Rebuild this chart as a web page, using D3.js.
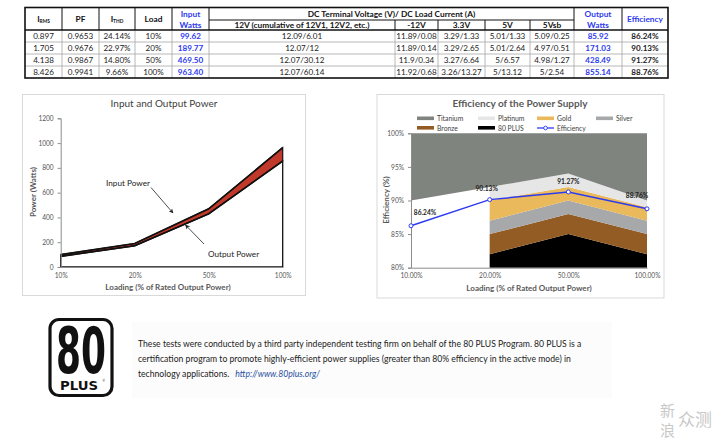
<!DOCTYPE html>
<html><head><meta charset="utf-8">
<script src="https://cdn.jsdelivr.net/npm/d3@7"></script>
<style>
html,body{margin:0;padding:0;background:#fff;}
svg{display:block;font-family:Lato,"Open Sans",sans-serif;}
</style></head>
<body>
<svg id="c" width="720" height="443"></svg>
<script>
// ---------- data ----------
const irms = ["0.897","1.705","4.138","8.426"];
const pf = ["0.9653","0.9676","0.9867","0.9941"];
const ithd = ["24.14%","22.97%","14.80%","9.66%"];
const loads = ["10%","20%","50%","100%"];
const inputWatts = [99.62,189.77,469.50,963.40];
const v12 = ["12.09/6.01","12.07/12","12.07/30.12","12.07/60.14"];
const vneg12 = ["11.89/0.08","11.89/0.14","11.9/0.34","11.92/0.68"];
const v33 = ["3.29/1.33","3.29/2.65","3.27/6.64","3.26/13.27"];
const v5 = ["5.01/1.33","5.01/2.64","5/6.57","5/13.12"];
const v5sb = ["5.09/0.25","4.97/0.51","4.98/1.27","5/2.54"];
const outputWatts = [85.92,171.03,428.49,855.14];
const efficiency = [86.24,90.13,91.27,88.76];

const powerTicks = [0,200,400,600,800,1000,1200];
const effLoads = ["10.00%","20.00%","50.00%","100.00%"];
const effTicks = [80,85,90,95,100];
// 80 PLUS thresholds (20%,50%,100% load; titanium also 10%)
const bronzeLvl = [82,85,82];
const silverLvl = [85,88,85];
const goldLvl = [87,90,87];
const platinumLvl = [90,92,89];
const titaniumLvl = [90,92,94,90];
const legendNames = ["Titanium","Platinum","Gold","Silver","Bronze","80 PLUS","Efficiency"];

const svg = d3.select("#c");
const BLUE = "#2d3bef";

// ---------- table ----------
const colX = [25,62,99,135,172,209,395,438,485,530,574,622,668];
const rowY = [30,42,54,66,78];
const tTop = 7.5, tMid = 20, tBot = 30;
const T = svg.append("g");
const cols = [irms,pf,ithd,loads,inputWatts.map(d=>d.toFixed(2)),v12,vneg12,v33,v5,v5sb,outputWatts.map(d=>d.toFixed(2)),efficiency.map(d=>d.toFixed(2)+"%")];
rowY.slice(1,-1).forEach(y=>T.append("line").attr("x1",colX[0]).attr("x2",colX[12]).attr("y1",y).attr("y2",y).attr("stroke","#a6a6a6").attr("stroke-width",0.8));
colX.slice(1,-1).forEach(x=>T.append("line").attr("x1",x).attr("x2",x).attr("y1",tBot).attr("y2",rowY[4]).attr("stroke","#a6a6a6").attr("stroke-width",0.8));
colX.slice(1,-1).forEach((x,i)=>{
  const ci=i+1;
  const inDC = ci>=6 && ci<=9;
  T.append("line").attr("x1",x).attr("x2",x).attr("y1",inDC?tMid:tTop).attr("y2",tBot).attr("stroke","#111").attr("stroke-width",1);
});
T.append("line").attr("x1",colX[5]).attr("x2",colX[10]).attr("y1",tMid).attr("y2",tMid).attr("stroke","#111").attr("stroke-width",1);
T.append("line").attr("x1",colX[0]).attr("x2",colX[12]).attr("y1",tBot).attr("y2",tBot).attr("stroke","#111").attr("stroke-width",1.6);
T.append("rect").attr("x",colX[0]).attr("y",tTop).attr("width",colX[12]-colX[0]).attr("height",rowY[4]-tTop).attr("fill","none").attr("stroke","#111").attr("stroke-width",1.6);
const cx = i=>(colX[i]+colX[i+1])/2;
const HF = 8.3;
function htext(x,y,t,color){return T.append("text").attr("x",x).attr("y",y).attr("text-anchor","middle").attr("font-size",HF).attr("font-weight","bold").attr("fill",color||"#111").text(t);}
let t1 = T.append("text").attr("x",cx(0)).attr("y",21.8).attr("text-anchor","middle").attr("font-size",HF).attr("font-weight","bold").attr("fill","#111");
t1.append("tspan").text("I");t1.append("tspan").attr("font-size",4.8).attr("dy",1.5).text("RMS");
htext(cx(1),21.8,"PF");
let t3 = T.append("text").attr("x",cx(2)).attr("y",21.8).attr("text-anchor","middle").attr("font-size",HF).attr("font-weight","bold").attr("fill","#111");
t3.append("tspan").text("I");t3.append("tspan").attr("font-size",4.8).attr("dy",1.5).text("THD");
htext(cx(3),21.8,"Load");
htext(cx(4),16.8,"Input",BLUE);htext(cx(4),27.8,"Watts",BLUE);
htext((colX[5]+colX[10])/2,17,"DC Terminal Voltage (V)/ DC Load Current (A)");
htext(cx(5),27.8,"12V (cumulative of 12V1, 12V2, etc.)");
htext(cx(6),27.8,"-12V");htext(cx(7),27.8,"3.3V");htext(cx(8),27.8,"5V");htext(cx(9),27.8,"5Vsb");
htext(cx(10),16.8,"Output",BLUE);htext(cx(10),27.8,"Watts",BLUE);
htext(cx(11),21.8,"Efficiency",BLUE);
cols.forEach((arr,ci)=>{
  arr.forEach((v,ri)=>{
    const bold = ci===4||ci===10||ci===11;
    T.append("text").attr("x",cx(ci)).attr("y",rowY[ri]+9).attr("text-anchor","middle")
     .attr("font-size",8.1).attr("font-weight",bold?"bold":"normal")
     .attr("fill",(ci===4||ci===10)?BLUE:"#222").text(v);
  });
});

// ---------- left chart ----------
const L = svg.append("g");
L.append("rect").attr("x",22.5).attr("y",94.5).attr("width",283).attr("height",201).attr("fill","#fff").attr("stroke","#d9d9d9");
const xL = d3.scalePoint().domain(loads).range([60.7,282.7]);
const yL = d3.scaleLinear().domain([0,1200]).range([267,118.3]);
L.append("text").attr("x",164).attr("y",107).attr("text-anchor","middle").attr("font-size",10).attr("fill","#404040").text("Input and Output Power");
const pts = loads.map((l,i)=>({l,inp:inputWatts[i],out:outputWatts[i]}));
L.append("path").datum(pts).attr("d",d3.area().x(d=>xL(d.l)).y0(d=>yL(d.out)).y1(d=>yL(d.inp))).attr("fill","#c0392b").attr("stroke","#111").attr("stroke-width",1.2);
L.append("path").datum(pts).attr("d",d3.area().x(d=>xL(d.l)).y0(yL(0)).y1(d=>yL(d.out))).attr("fill","#fff").attr("stroke","#111").attr("stroke-width",1.3);
L.append("path").datum(pts).attr("d",d3.line().x(d=>xL(d.l)).y(d=>yL(d.inp))).attr("fill","none").attr("stroke","#111").attr("stroke-width",1.6);
L.append("path").datum(pts).attr("d",d3.line().x(d=>xL(d.l)).y(d=>yL(d.out))).attr("fill","none").attr("stroke","#111").attr("stroke-width",1.6);
const axYL = L.append("g").attr("transform",`translate(${xL(loads[0])},0)`).call(d3.axisLeft(yL).tickValues(powerTicks).tickFormat(d3.format("d")).tickSize(3).tickPadding(4));
const axXL = L.append("g").attr("transform",`translate(0,${yL(0)})`).call(d3.axisBottom(xL).tickSize(0).tickPadding(6));
[axYL,axXL].forEach(a=>{a.select(".domain").attr("stroke","#8c8c8c");a.selectAll(".tick line").attr("stroke","#8c8c8c");a.selectAll("text").attr("font-size",6.6).attr("fill","#555").attr("font-family","Lato,sans-serif");});
L.append("text").attr("x",168).attr("y",289.5).attr("text-anchor","middle").attr("font-size",8).attr("font-weight","bold").attr("fill","#595959").text("Loading (% of Rated Output Power)");
L.append("text").attr("transform","translate(35.5,192) rotate(-90)").attr("text-anchor","middle").attr("font-size",8).attr("font-weight","bold").attr("fill","#595959").text("Power (Watts)");
const defs = svg.append("defs");
defs.append("marker").attr("id","ah").attr("viewBox","0 0 10 10").attr("refX",9).attr("refY",5).attr("markerWidth",6).attr("markerHeight",6).attr("orient","auto")
  .append("path").attr("d","M0,0L10,5L0,10L3,5Z").attr("fill","#222");
L.append("text").attr("x",106).attr("y",185.5).attr("font-size",8.2).attr("fill","#222").text("Input Power");
L.append("line").attr("x1",151).attr("y1",187.5).attr("x2",173).attr("y2",213).attr("stroke","#222").attr("stroke-width",0.8).attr("marker-end","url(#ah)");
L.append("text").attr("x",208).attr("y",257).attr("font-size",8.2).attr("fill","#222").text("Output Power");
L.append("line").attr("x1",204).attr("y1",244).attr("x2",185.5).attr("y2",225).attr("stroke","#222").attr("stroke-width",0.8).attr("marker-end","url(#ah)");

// ---------- right chart ----------
const R = svg.append("g");
R.append("rect").attr("x",377).attr("y",94.5).attr("width",287).attr("height",203.5).attr("fill","#fff").attr("stroke","#d9d9d9");
R.append("text").attr("x",520).attr("y",106.5).attr("text-anchor","middle").attr("font-size",10).attr("font-weight","bold").attr("fill","#595959").text("Efficiency of the Power Supply");
const xR = d3.scalePoint().domain(effLoads).range([411,647]);
const yR = d3.scaleLinear().domain([80,100]).range([267.7,133.3]);
const sub = effLoads.slice(1);
const bands = [
  {c:"#000000", lo:[80,80,80], hi:bronzeLvl},
  {c:"#935c24", lo:bronzeLvl, hi:silverLvl},
  {c:"#a6a8aa", lo:silverLvl, hi:goldLvl},
  {c:"#e9b95c", lo:goldLvl, hi:platinumLvl},
  {c:"#e6e6e6", lo:platinumLvl, hi:titaniumLvl.slice(1)}
];
bands.forEach(b=>{
  R.append("path").datum(sub.map((l,i)=>({l,lo:b.lo[i],hi:b.hi[i]})))
   .attr("d",d3.area().x(d=>xR(d.l)).y0(d=>yR(d.lo)).y1(d=>yR(d.hi))).attr("fill",b.c);
});
R.append("path").datum(effLoads.map((l,i)=>({l,lo:titaniumLvl[i]})))
  .attr("d",d3.area().x(d=>xR(d.l)).y0(d=>yR(d.lo)).y1(yR(100))).attr("fill","#7f847f");
const axYR = R.append("g").attr("transform",`translate(${xR(effLoads[0])},0)`).call(d3.axisLeft(yR).tickValues(effTicks).tickFormat(d=>d+"%").tickSize(3).tickPadding(4));
const axXR = R.append("g").attr("transform",`translate(0,${yR(80)})`).call(d3.axisBottom(xR).tickSize(0).tickPadding(6));
[axYR,axXR].forEach(a=>{a.select(".domain").attr("stroke","#8c8c8c");a.selectAll(".tick line").attr("stroke","#8c8c8c");a.selectAll("text").attr("font-size",6.6).attr("fill","#555").attr("font-family","Lato,sans-serif");});
R.append("text").attr("x",529).attr("y",291).attr("text-anchor","middle").attr("font-size",8).attr("font-weight","bold").attr("fill","#595959").text("Loading (% of Rated Output Power)");
R.append("text").attr("transform","translate(389,200) rotate(-90)").attr("text-anchor","middle").attr("font-size",8).attr("font-weight","bold").attr("fill","#595959").text("Efficiency (%)");
const eff = effLoads.map((l,i)=>({l,v:efficiency[i]}));
R.append("path").datum(eff).attr("d",d3.line().x(d=>xR(d.l)).y(d=>yR(d.v))).attr("fill","none").attr("stroke",BLUE).attr("stroke-width",1.5);
R.selectAll("circle.m").data(eff).enter().append("circle").attr("cx",d=>xR(d.l)).attr("cy",d=>yR(d.v)).attr("r",2).attr("fill","#fff").attr("stroke",BLUE).attr("stroke-width",1);
const lblOff = [[14,-11],[-3,-9],[0,-8],[-10,-11]];
R.selectAll("text.lbl").data(eff).enter().append("text").attr("x",(d,i)=>xR(d.l)+lblOff[i][0]).attr("y",(d,i)=>yR(d.v)+lblOff[i][1])
  .attr("text-anchor","middle").attr("font-size",6.6).attr("font-weight","bold").attr("fill","#222").text(d=>d.v.toFixed(2)+"%");
const legColors = ["#7f847f","#e6e6e6","#e9b95c","#a6a8aa","#935c24","#000000",BLUE];
const legPos = [[417,118.5],[478,118.5],[537,118.5],[596,118.5],[417,128],[478,128],[537,128]];
legendNames.forEach((n,i)=>{
  const [x,y]=legPos[i];
  if(i<6){R.append("rect").attr("x",x).attr("y",y-2).attr("width",17).attr("height",3.6).attr("fill",legColors[i]);}
  else{R.append("line").attr("x1",x).attr("x2",x+17).attr("y1",y).attr("y2",y).attr("stroke",BLUE).attr("stroke-width",1.3);
       R.append("circle").attr("cx",x+8.5).attr("cy",y).attr("r",1.8).attr("fill","#fff").attr("stroke",BLUE).attr("stroke-width",0.9);}
  R.append("text").attr("x",x+20).attr("y",y+2.5).attr("font-size",6.8).attr("fill","#404040").text(n);
});

// ---------- bottom note ----------
const B = svg.append("g");
B.append("rect").attr("x",132).attr("y",322).attr("width",480).attr("height",76).attr("fill","#fcfcfc");
B.append("rect").attr("x",50).attr("y",319.5).attr("width",62).attr("height",76).attr("rx",9).attr("fill","#fff").attr("stroke","#111").attr("stroke-width",3.2);
B.append("text").attr("x",81).attr("y",373).attr("text-anchor","middle").attr("font-size",64).attr("font-weight","bold").attr("font-family","'DejaVu Sans Condensed','DejaVu Sans',sans-serif").attr("fill","#111").attr("textLength",50).attr("lengthAdjust","spacingAndGlyphs").text("80");
B.append("text").attr("x",79).attr("y",390).attr("text-anchor","middle").attr("font-size",13).attr("font-weight","bold").attr("font-family","'DejaVu Sans',sans-serif").attr("fill","#111").attr("textLength",38).attr("lengthAdjust","spacingAndGlyphs").text("PLUS");
B.append("text").attr("x",102.5).attr("y",382).attr("font-size",3).attr("fill","#111").text("®");
const note = ["These tests were conducted by a third party independent testing firm on behalf of the 80 PLUS Program. 80 PLUS is a",
  "certification program to promote highly-efficient power supplies (greater than 80% efficiency in the active mode) in",
  "technology applications."];
let lastT;
note.forEach((s,i)=>{lastT=B.append("text").attr("x",138).attr("y",347+i*15).attr("font-size",8.65).attr("fill","#222").text(s);});
const bb = lastT.node().getBBox();
B.append("text").attr("x",bb.x+bb.width+6).attr("y",377).attr("font-size",8.65).attr("font-style","italic").attr("fill","#1f4e9c").text("http://www.80plus.org/");
const W = svg.append("g").attr("font-family","'Noto Sans CJK SC',sans-serif").attr("fill","#c8c8c8");
W.append("text").attr("x",660).attr("y",416).attr("font-size",15).text("新");
W.append("text").attr("x",660).attr("y",436).attr("font-size",15).text("浪");
W.append("text").attr("x",678).attr("y",426).attr("font-size",17).text("众测");
</script>
</body></html>
